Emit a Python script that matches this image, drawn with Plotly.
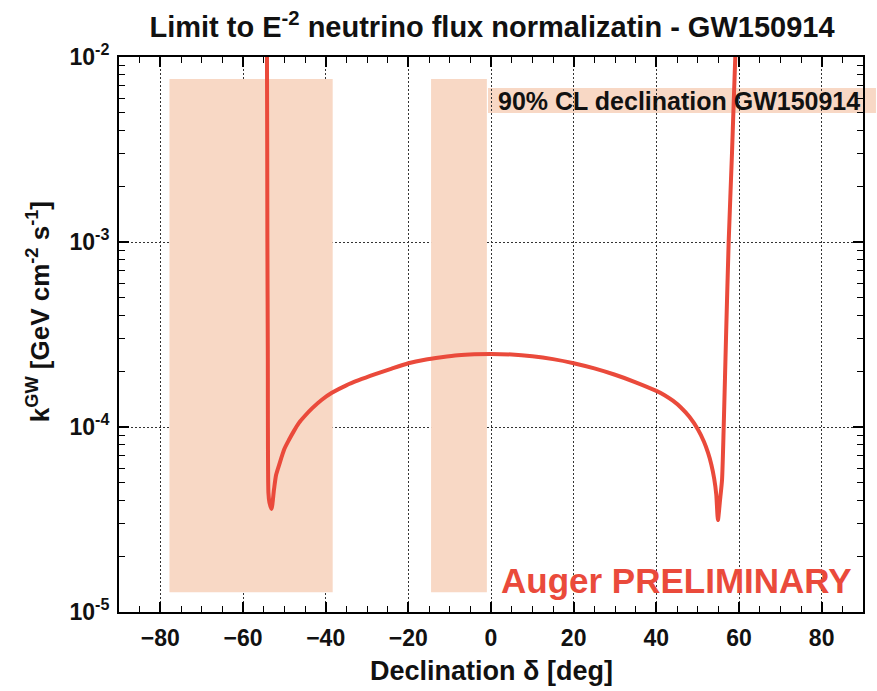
import plotly.graph_objects as go

# ---- data ----
decl = [-54.3, -54.2, -54.1, -54.0, -53.85, -53.6, -53.1, -52.5, -52.0, -51.2, -50.0, -48.9,
        -47.7, -46.5, -45.0, -43.3, -41.0, -38.5, -35.0, -32.0, -28.0, -24.0, -20.0, -16.0,
        -12.0, -8.0, -4.0, 0.0, 5.0, 10.0, 15.0, 20.0, 25.0, 30.0, 35.0, 40.0, 42.0,
        44.0, 46.0, 48.0, 50.0, 51.5, 52.5, 53.3, 54.0, 54.5, 54.9, 55.4, 55.9, 56.3, 56.9,
        57.5, 58.3, 59.1, 59.4]
k_gw = [1.4e-2, 1.0e-2, 1.0e-3, 2.6e-4, 4.4e-5, 3.9e-5, 3.6e-5, 4.6e-5, 5.5e-5, 6.3e-5, 7.6e-5, 8.5e-5,
        9.5e-5, 1.05e-4, 1.15e-4, 1.26e-4, 1.40e-4, 1.53e-4, 1.68e-4, 1.79e-4, 1.93e-4, 2.07e-4, 2.21e-4, 2.31e-4,
        2.38e-4, 2.44e-4, 2.47e-4, 2.48e-4, 2.466e-4, 2.413e-4, 2.328e-4, 2.213e-4, 2.074e-4, 1.916e-4, 1.745e-4, 1.567e-4, 1.486e-4,
        1.387e-4, 1.271e-4, 1.135e-4, 9.75e-5, 8.34e-5, 7.26e-5, 6.27e-5, 5.25e-5, 4.32e-5, 3.14e-5, 4.0e-5, 5.2e-5, 1.0e-4, 3.3e-4,
        1.0e-3, 3.0e-3, 1.0e-2, 1.4e-2]

band_lo = [-77.8, -14.5]
band_hi = [-38.3, -1.0]
band_kmin = 1.28e-5
band_kmax = 7.6e-3

x_tick0, x_dtick, x_minor_dtick = 0, 20, 5
y_ticks = [1e-5, 1e-4, 1e-3, 1e-2]
y_ticktext = ["10<sup>-5</sup>", "10<sup>-4</sup>", "10<sup>-3</sup>", "10<sup>-2</sup>"]
y_minor = [m * 10.0 ** e for e in (-5, -4, -3) for m in range(2, 10)]

legend_text = "90% CL declination GW150914"
title_text = "Limit to E<sup>-2</sup> neutrino flux normalizatin - GW150914"

RED = "#ea4a3b"
BAND = "#f8d8c5"
FONT = "Liberation Sans, Arial, Helvetica, sans-serif"

fig = go.Figure()

for lo, hi in zip(band_lo, band_hi):
    fig.add_trace(go.Scatter(
        x=[lo, hi, hi, lo, lo],
        y=[band_kmin, band_kmin, band_kmax, band_kmax, band_kmin],
        fill="toself", fillcolor=BAND, line=dict(width=0), mode="lines",
        hoverinfo="skip", showlegend=False))

fig.add_trace(go.Scatter(x=decl, y=k_gw, mode="lines",
                         line=dict(color=RED, width=4, shape="spline", smoothing=0.6),
                         showlegend=False))

# layout geometry
W, H = 877, 691
L, R, T, B = 119, 12, 57, 79
pw, ph = W - L - R, H - T - B

def px(xp):
    return (xp - L) / pw

def py(yp):
    return (H - B - yp) / ph

# legend strip
fig.add_shape(type="rect", xref="paper", yref="paper",
              x0=px(489), x1=px(878), y0=py(113), y1=py(88),
              fillcolor=BAND, line=dict(width=0), layer="below")
fig.add_annotation(xref="paper", yref="paper", x=px(497), y=py(101),
                   xanchor="left", yanchor="middle", showarrow=False,
                   text=legend_text, font=dict(family=FONT, size=25, color="#111", weight="bold"))

fig.add_annotation(xref="paper", yref="paper", x=px(500), y=py(580),
                   xanchor="left", yanchor="middle", showarrow=False,
                   text="Auger PRELIMINARY", font=dict(family=FONT, size=35, color=RED, weight="bold"))

# axis titles
fig.add_annotation(xref="paper", yref="paper", x=0.5, y=py(671),
                   xanchor="center", yanchor="middle", showarrow=False,
                   text="Declination δ [deg]", font=dict(family=FONT, size=27, color="#111", weight="bold"))
fig.add_annotation(xref="paper", yref="paper", x=px(38), y=py(312),
                   xanchor="center", yanchor="middle", showarrow=False, textangle=-90,
                   text="k<sup>GW</sup> [GeV cm<sup>-2</sup> s<sup>-1</sup>]",
                   font=dict(family=FONT, size=26, color="#111", weight="bold"))

axis_common = dict(
    showline=True, linecolor="black", linewidth=2, mirror="allticks",
    ticks="inside", tickcolor="black", tickwidth=1.5, ticklen=10,
    showgrid=True, gridcolor="#333", griddash="2px,2px", gridwidth=1,
    zeroline=False,
    tickfont=dict(family=FONT, size=23, color="#111", weight="bold"),
)

fig.update_xaxes(range=[-90, 90], tickmode="linear", tick0=x_tick0, dtick=x_dtick,
                 ticklabelstandoff=4,
                 minor=dict(ticks="inside", ticklen=6, tickwidth=1.2, tickcolor="black",
                            dtick=x_minor_dtick, tick0=x_tick0, showgrid=False),
                 **axis_common)
fig.update_yaxes(type="log", range=[-5, -2], tickmode="array", tickvals=y_ticks,
                 ticktext=y_ticktext, ticklabelstandoff=3,
                 minor=dict(ticks="inside", ticklen=6, tickwidth=1.2, tickcolor="black",
                            tickmode="array", tickvals=y_minor, showgrid=False),
                 **axis_common)

fig.update_layout(
    width=W, height=H,
    margin=dict(l=L, r=R, t=T, b=B),
    paper_bgcolor="white", plot_bgcolor="rgba(0,0,0,0)",
    title=dict(text=title_text, x=0.5 * pw / W + L / W, xanchor="center",
               y=1 - 27 / H, yanchor="middle",
               font=dict(family=FONT, size=29, color="#111", weight="bold")),
    showlegend=False,
)

fig.write_html("out.html")
